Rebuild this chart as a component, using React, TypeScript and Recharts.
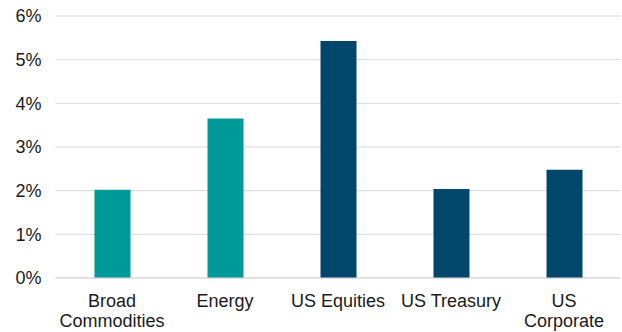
import React from "react";
import { BarChart, Bar, XAxis, YAxis, CartesianGrid, Cell } from "recharts";

const categories = ["Broad Commodities", "Energy", "US Equities", "US Treasury", "US Corporate"];
const tickLines: string[][] = [
  ["Broad", "Commodities"],
  ["Energy"],
  ["US Equities"],
  ["US Treasury"],
  ["US", "Corporate"],
];
const values = [2.02, 3.65, 5.43, 2.04, 2.48];
const colors = ["#009999", "#009999", "#00476B", "#00476B", "#00476B"];
const yTicks = [0, 1, 2, 3, 4, 5, 6];

const data = categories.map((c, i) => ({ name: c, value: values[i] }));

const FONT = "'Liberation Sans', Arial, sans-serif";

function XTick(props: any) {
  const { x, y, index } = props;
  const lines = tickLines[index] || [String(props.payload.value)];
  return (
    <text x={x} y={y} textAnchor="middle" fill="#1a1a1a" fontFamily={FONT} fontSize={18}>
      {lines.map((l, i) => (
        <tspan key={i} x={x} dy={i === 0 ? 29 : 20}>
          {l}
        </tspan>
      ))}
    </text>
  );
}

export default function App() {
  return (
    <div style={{ position: "absolute", left: 0, top: 0, width: 622, height: 332, background: "#fff" }}>
      <BarChart
        width={622}
        height={332}
        data={data}
        margin={{ top: 16, right: 1.5, left: 0, bottom: 0 }}
      >
        <CartesianGrid vertical={false} stroke="#d9d9d9" strokeWidth={1} />
        <XAxis
          dataKey="name"
          height={54}
          interval={0}
          tickLine={false}
          tickSize={0}
          tickMargin={0}
          axisLine={{ stroke: "#d9d9d9" }}
          tick={<XTick />}
        />
        <YAxis
          width={55.5}
          domain={[0, 6]}
          ticks={yTicks}
          interval={0}
          axisLine={false}
          tickLine={false}
          tickSize={0}
          tickMargin={14}
          tickFormatter={(v: number) => `${v}%`}
          tick={{ fill: "#1a1a1a", fontFamily: FONT, fontSize: 18 }}
        />
        <Bar dataKey="value" barSize={36} isAnimationActive={false}>
          {data.map((d, i) => (
            <Cell key={d.name} fill={colors[i]} />
          ))}
        </Bar>
      </BarChart>
    </div>
  );
}
